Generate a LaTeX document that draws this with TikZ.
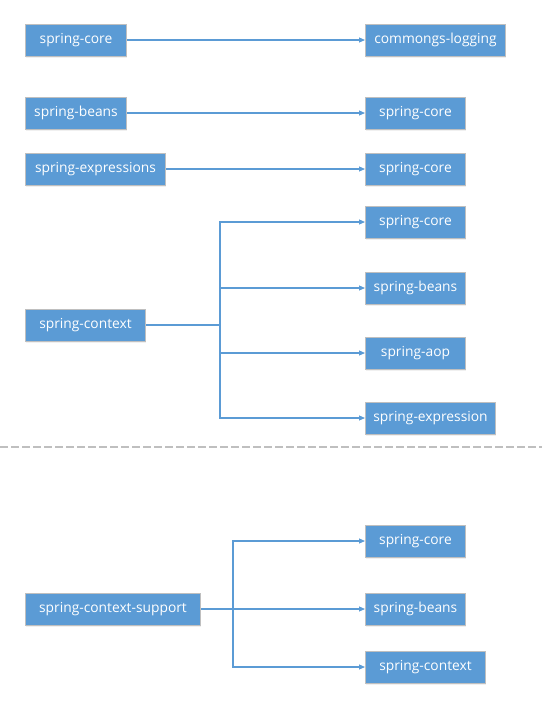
\documentclass[tikz,border=0pt]{standalone}
\usepackage{fontspec}
\setmainfont{Open Sans}
\definecolor{depblue}{RGB}{91,155,213}
\definecolor{depgray}{RGB}{191,191,191}
\usetikzlibrary{arrows.meta,shadows}

\begin{document}
\begin{tikzpicture}[x=1pt,y=-1pt,
          module/.style={rectangle,draw=depgray,line width=1pt,fill=depblue,text=white,
                         minimum width=100pt,minimum height=32pt,inner xsep=3pt,
                         font=\fontsize{13.8}{16}\selectfont,anchor=west,
                         drop shadow={shadow xshift=0pt,shadow yshift=-2pt,opacity=0.12}},
          dep/.style={draw=depblue,line width=1.1pt,-{Triangle[length=6pt,width=5pt]}},
          branch/.style={draw=depblue,line width=1.1pt}]
        \useasboundingbox (0,0) rectangle (542,704);
        % simple dependencies
        \node[module,minimum width=101pt] (core)  at (25,40)  {spring-core};
        \node[module,minimum width=140pt] (log)   at (365,40) {commongs-logging};
        \node[module,minimum width=101pt] (beans) at (25,113) {spring-beans};
        \node[module] (beanscore) at (365,113) {spring-core};
        \node[module,minimum width=140pt] (expr)  at (25,169) {spring-expressions};
        \node[module] (exprcore) at (365,169) {spring-core};
        \draw[dep] (core) -- (log);
        \draw[dep] (beans) -- (beanscore);
        \draw[dep] (expr) -- (exprcore);
        % spring-context
        \node[module,minimum width=120pt] (ctx) at (25,325) {spring-context};
        \node[module] (ctxcore)  at (365,222) {spring-core};
        \node[module] (ctxbeans) at (365,288) {spring-beans};
        \node[module] (ctxaop)   at (365,353) {spring-aop};
        \node[module,minimum width=130pt] (ctxexpr)  at (365,418) {spring-expression};
        \coordinate (ctxfork) at (220,325);
        \draw[branch] (ctx) -- (ctxfork);
        \foreach \target in {ctxcore,ctxbeans,ctxaop,ctxexpr}
          \draw[dep] (ctxfork) |- (\target);
        % separator
        \draw[depgray,line width=1.1pt,dash pattern=on 8pt off 3pt] (0,447) -- (542,447);
        % spring-context-support
        \node[module,minimum width=175pt] (sup) at (25,609) {spring-context-support};
        \node[module] (supcore)  at (365,541) {spring-core};
        \node[module] (supbeans) at (365,609) {spring-beans};
        \node[module,minimum width=120pt] (supctx)   at (365,667) {spring-context};
        \coordinate (supfork) at (233,609);
        \draw[branch] (sup) -- (supfork);
        \foreach \target in {supcore,supbeans,supctx}
          \draw[dep] (supfork) |- (\target);
\end{tikzpicture}
\end{document}
